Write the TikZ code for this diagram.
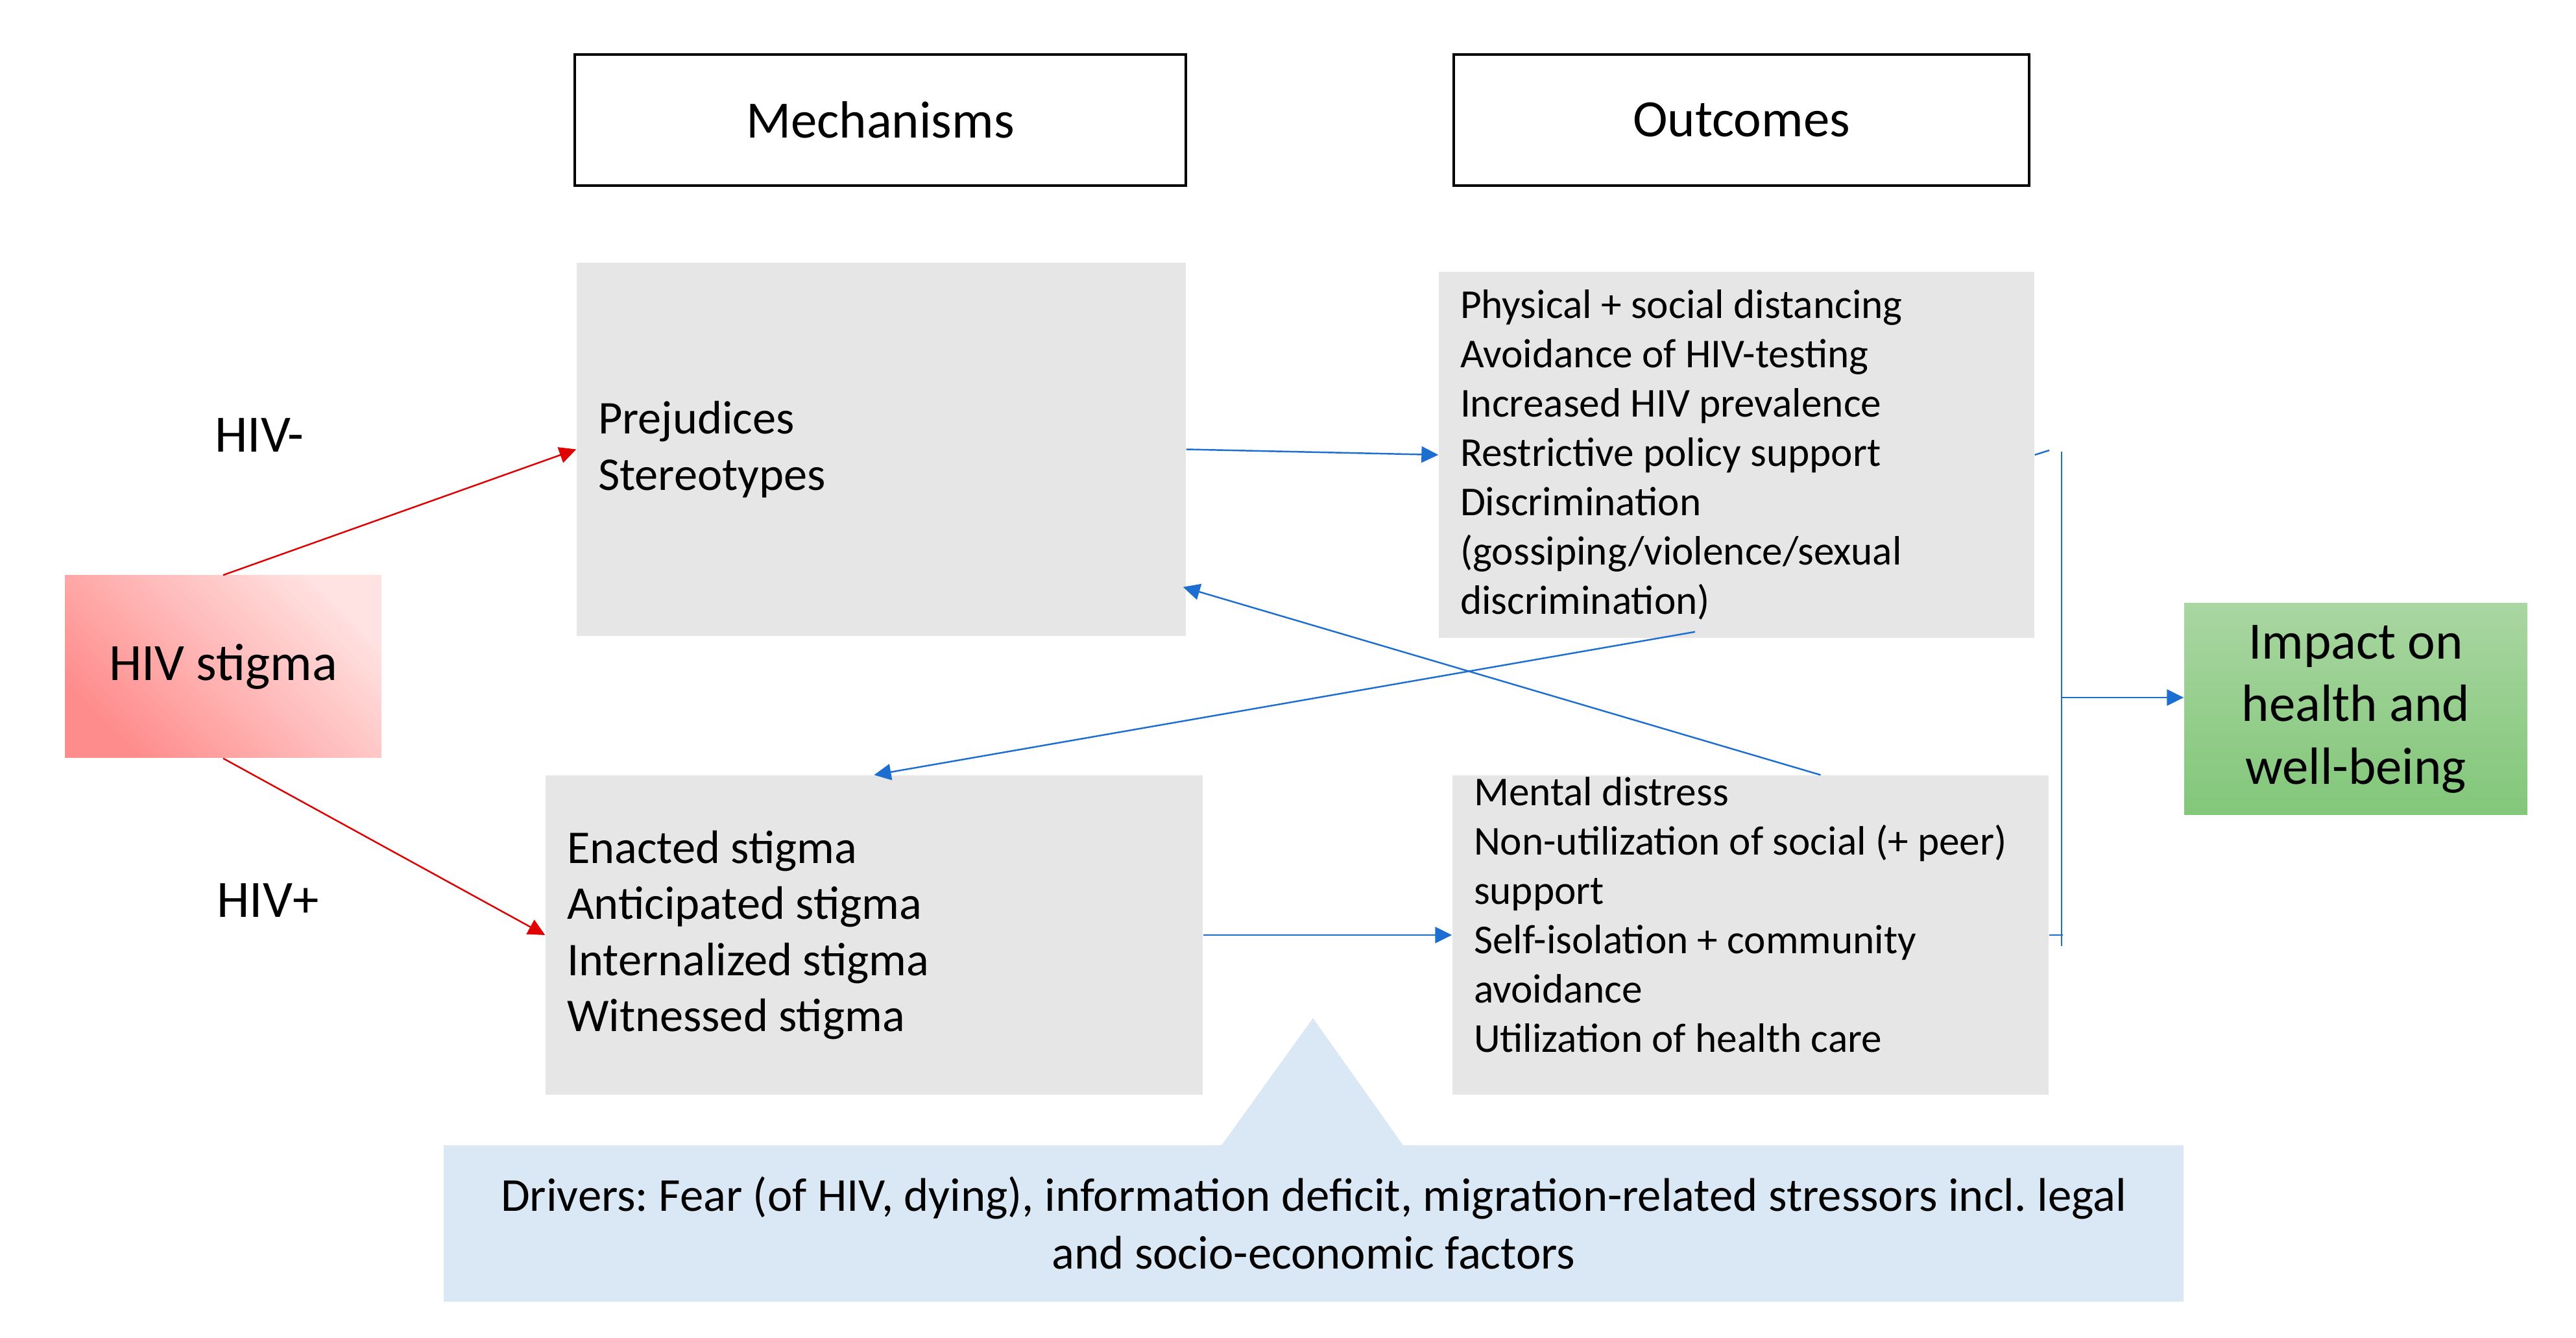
\documentclass[tikz,border=0pt]{standalone}
\usepackage{fontspec}
\setmainfont{Carlito}
\frenchspacing
\usetikzlibrary{arrows.meta, positioning, calc}
\definecolor{cblue}{HTML}{1C6ED0}
\definecolor{cred}{HTML}{E00000}
\definecolor{cgrey}{HTML}{E6E6E6}
\definecolor{cdriver}{HTML}{DAE8F5}
\definecolor{cgreentop}{HTML}{A9D6A1}
\definecolor{cgreenbot}{HTML}{82C77A}
\definecolor{cpinkdark}{HTML}{FF8C8C}
\definecolor{cpinklight}{HTML}{FFE2E1}
\tikzset{
  head/.style={draw=black, line width=1pt, fill=white, minimum width=#1, minimum height=2.02cm, font=\fontsize{23}{28}\selectfont},
  mechbox/.style={fill=cgrey, align=flush left, inner xsep=0.33cm, text width=#1, font=\fontsize{20.6}{24.6}\selectfont},
  outbox/.style={fill=cgrey, align=flush left, inner xsep=0.33cm, text width=#1, font=\fontsize{18}{21.6}\selectfont},
  tag/.style={font=\fontsize{23}{28}\selectfont},
  stigbox/.style={bottom color=cpinkdark, top color=cpinklight, shading angle=-45, minimum width=4.88cm, minimum height=2.81cm, inner sep=0pt, font=\fontsize{23}{28}\selectfont},
  impbox/.style={bottom color=cgreenbot, top color=cgreentop, minimum width=5.29cm, minimum height=3.26cm, inner sep=0pt, align=flush center, font=\fontsize{23}{27.4}\selectfont},
  drvtext/.style={align=flush center, font=\fontsize{20.7}{25.3}\selectfont},
  blarrow/.style={-{Triangle[length=0.26cm, width=0.25cm]}, draw=cblue, line width=0.7pt},
  blline/.style={draw=cblue, line width=0.7pt},
  redarrow/.style={-{Triangle[length=0.26cm, width=0.25cm]}, draw=cred, line width=0.7pt},
}

\begin{document}
\begin{tikzpicture}
  \useasboundingbox (0,0) rectangle (39.71,-20.62);
  % column heads
  \node[head=9.42cm] (mechhead) at (13.57,-1.85) {Mechanisms};
  \node[head=8.87cm] (outhead) at (26.845,-1.85) {Outcomes};
  % left: stigma and groups
  \node[stigbox] (stigma) at (3.44,-10.275) {HIV stigma};
  \node[tag] (neg) at (4.00,-6.71) {HIV-};
  \node[tag] (pos) at (4.13,-13.88) {HIV+};
  % mechanisms
  \node[mechbox=8.73cm, minimum height=5.75cm] (mech1) at (13.585,-6.925) {Prejudices\\Stereotypes};
  \node[mechbox=9.47cm, minimum height=4.92cm] (mech2) at (13.475,-14.41) {Enacted stigma\\Anticipated stigma\\Internalized stigma\\Witnessed stigma};
  % outcomes
  \node[outbox=8.52cm, minimum height=5.64cm] (out1) at (26.77,-7.01) {Physical + social distancing\\Avoidance of HIV-testing\\Increased HIV prevalence\\Restrictive policy support\\Discrimination\\(gossiping/violence/sexual\\discrimination)};
  \node[fill=cgrey, inner xsep=0.33cm, inner ysep=0.03cm, minimum height=4.92cm, font=\fontsize{18}{21.6}\selectfont] (out2) at (26.985,-14.41) {\begin{minipage}[t][4.86cm][t]{8.53cm}\raggedright Mental distress\\Non-utilization of social (+ peer)\\support\\Self-isolation + community\\avoidance\\Utilization of health care\end{minipage}};
  % impact
  \node[impbox] (impact) at (36.315,-10.93) {Impact on\\health and\\well-being};
  % drivers callout
  \fill[cdriver] (6.84,-17.65) -- (18.83,-17.65) -- (20.24,-15.69) -- (21.63,-17.65) -- (33.66,-17.65) -- (33.66,-20.06) -- (6.84,-20.06) -- cycle;
  \node[drvtext] (drivers) at (20.25,-18.85) {Drivers: Fear (of HIV, dying), information deficit, migration-related stressors incl. legal\\and socio-economic factors};
  % connectors
  \draw[redarrow] (stigma.north) -- (mech1.west);
  \draw[redarrow] (stigma.south) -- (mech2.west);
  \draw[blarrow] (mech1.east) -- (out1.west);
  \draw[blarrow] (mech2.east) -- (out2.west);
  \draw[blarrow] ([shift={(-0.64,0.1)}]out1.south) -- (mech2.north);
  \draw[blarrow] ([xshift=1.08cm]out2.north) -- ([shift={(-0.05,0.76)}]mech1.south east);
  % bracket to impact
  \coordinate (brtop) at (31.78,-6.96);
  \coordinate (brbot) at (31.78,-14.58);
  \coordinate (brmid) at (31.78,-10.75);
  \coordinate (stubtop) at (31.59,-6.94);
  \coordinate (stubbot) at (31.80,-14.41);
  \draw[blline] (out1.east) -- (stubtop);
  \draw[blline] (out2.east) -- (stubbot);
  \draw[blline] (brtop) -- (brbot);
  \draw[blarrow] (brmid) -- (brmid -| impact.west);
\end{tikzpicture}
\end{document}
